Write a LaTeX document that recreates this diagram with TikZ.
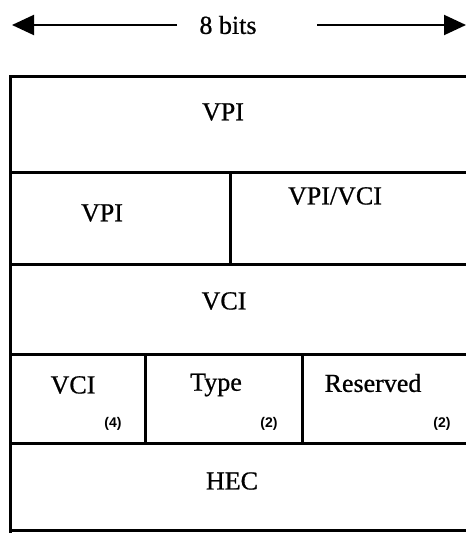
\documentclass[tikz,border=0pt]{standalone}
\usepackage{fontspec}
\setmainfont{Liberation Serif}[FakeBold=0.7]
\newfontfamily\lsans{Liberation Sans}
\usetikzlibrary{arrows.meta}
\begin{document}
\begin{tikzpicture}[x=1pt,y=-1pt,
  grid/.style={line width=3pt, line cap=rect},
  lbl/.style={inner sep=0pt, font=\fontsize{26}{30}\selectfont},
  sub/.style={inner sep=0pt, font=\lsans\bfseries\fontsize{14}{16}\selectfont},
  dimarrow/.style={line width=2pt, -{Triangle[length=22pt,width=20pt]}}]
\useasboundingbox (0,0) rectangle (466,533);
% width arrow
\node[lbl] (bits) at (228,25) {8 bits};
\coordinate (alt) at (12,25);
\coordinate (als) at (177,25);
\coordinate (ars) at (317,25);
\coordinate (art) at (466,25);
\draw[dimarrow] (als) -- (alt);
\draw[dimarrow] (ars) -- (art);
% grid lines
\draw[grid] (10,76) -- (470,76);
\draw[grid] (10,172) -- (470,172);
\draw[grid] (10,264) -- (470,264);
\draw[grid] (10,354) -- (470,354);
\draw[grid] (10,443) -- (470,443);
\draw[grid] (10,530) -- (470,530);
\draw[grid] (10,76) -- (10,536);
\draw[grid] (230,172) -- (230,264);
\draw[grid] (145,354) -- (145,443);
\draw[grid] (302,354) -- (302,443);
% labels
\node[lbl] (vpia) at (223,112) {VPI};
\node[lbl] (vpib) at (102,213) {VPI};
\node[lbl] (vpivci) at (335,196) {VPI/VCI};
\node[lbl] (vcia) at (224,301) {VCI};
\node[lbl] (vcib) at (73,385) {VCI};
\node[sub] (n4) at (113,424) {(4)};
\node[lbl] (type) at (216,385) {Type};
\node[sub] (n2a) at (269,424) {(2)};
\node[lbl] (res) at (373,383) {Reserved};
\node[sub] (n2b) at (442,424) {(2)};
\node[lbl] (hec) at (232,481) {HEC};
\end{tikzpicture}
\end{document}
